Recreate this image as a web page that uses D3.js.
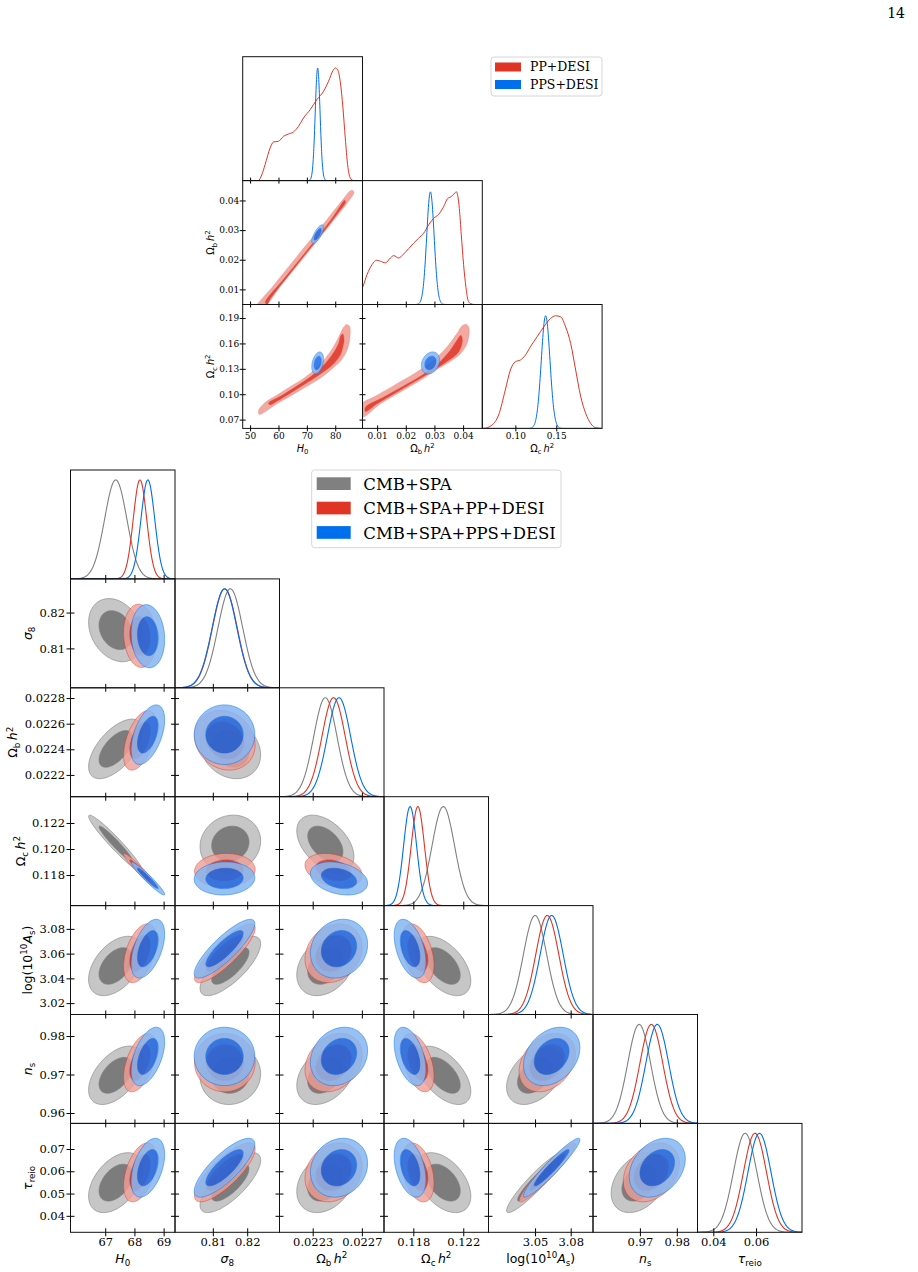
<!DOCTYPE html>
<html>
<head>
<meta charset="utf-8">
<script src="https://cdn.jsdelivr.net/npm/d3@7"></script>
<style>
body { margin: 0; background: #fff; }
</style>
</head>
<body>
<script>
"use strict";

// Size of the page
const W = 918;
const H = 1272;

// getdist colours
const grey = "#808080";
const red = "#E03424";
const blue = "#006FED";

// ---------------- upper small triangle (PP+DESI / PPS+DESI) ----------------
const topLegend = ["PP+DESI", "PPS+DESI"];
const topRanges = [[47.4, 89.6], [0.0049, 0.0467], [0.0596, 0.206]];
const topXTicks = [[50, 60, 70, 80], [0.01, 0.02, 0.03, 0.04], [0.10, 0.15]];
const topYTicks = [[], [0.01, 0.02, 0.03, 0.04], [0.07, 0.10, 0.13, 0.16, 0.19]];
const topFormats = [".0f", ".2f", ".2f"];

// PP+DESI marginals (value, relative density)
const ppH0Curve = [[47.4, 0], [52.9, 0], [54.1, 0.05], [55.29, 0.142], [57.06, 0.29], [58.24, 0.343],
  [60.0, 0.349], [61.76, 0.393], [63.53, 0.414], [65.29, 0.432], [67.06, 0.482], [68.82, 0.556],
  [71.18, 0.63], [73.53, 0.719], [75.88, 0.793], [77.65, 0.882], [79.18, 0.976], [80.0, 1],
  [80.82, 0.985], [81.76, 0.88], [82.71, 0.645], [83.53, 0.379], [84.35, 0.142], [85.29, 0.024],
  [86.47, 0], [89.6, 0]];
const ppObCurve = [[0.0049, 0.15], [0.00512, 0.164], [0.00652, 0.267], [0.00826, 0.355], [0.00976, 0.393],
  [0.01115, 0.384], [0.01289, 0.370], [0.01463, 0.413], [0.0158, 0.434], [0.01753, 0.413],
  [0.01927, 0.449], [0.02101, 0.496], [0.02276, 0.545], [0.02449, 0.589], [0.02624, 0.633],
  [0.02798, 0.707], [0.02972, 0.765], [0.03146, 0.8], [0.0332, 0.868], [0.0346, 0.941],
  [0.03578, 0.956], [0.03728, 0.994], [0.0377, 1], [0.03868, 0.853], [0.03937, 0.619],
  [0.04017, 0.355], [0.04101, 0.15], [0.04171, 0.038], [0.0425, 0.009], [0.044, 0], [0.0467, 0]];
const ppOcCurve = [[0.0596, 0], [0.0611, 0], [0.0714, 0.03], [0.0795, 0.118], [0.0877, 0.341],
  [0.0939, 0.518], [0.100, 0.592], [0.1061, 0.607], [0.1123, 0.651], [0.1184, 0.725],
  [0.1266, 0.814], [0.1348, 0.902], [0.143, 0.976], [0.1491, 1], [0.1553, 0.991], [0.1614, 0.902],
  [0.1676, 0.754], [0.1737, 0.518], [0.1799, 0.281], [0.186, 0.133], [0.1921, 0.044],
  [0.1983, 0.006], [0.206, 0]];

// PP+DESI 2D contours (outer 95%, inner 68%), traced points
const ppH0ObOuter = [[52.05, 0.00387], [57.94, 0.01093], [63.82, 0.01789], [69.7, 0.02485], [75.58, 0.03169],
  [80.29, 0.03742], [83.82, 0.04168], [85.0, 0.04303], [86.0, 0.04346], [86.6, 0.04259],
  [85.83, 0.04124], [83.24, 0.03787], [78.54, 0.03225], [72.65, 0.02518], [66.77, 0.01822],
  [60.89, 0.01138], [55.24, 0.00442]];
const ppH0ObInner = [[55.35, 0.00555], [61.8, 0.0134], [67.7, 0.02036], [73.55, 0.02731], [79.45, 0.03472],
  [82.75, 0.03955], [83.3, 0.04011], [83.62, 0.03944], [80.55, 0.03529], [74.65, 0.02798],
  [68.75, 0.02103], [62.9, 0.01396], [57.0, 0.00667], [56.1, 0.00498]];
const ppH0OcOuter = [[52.94, 0.0802], [55.29, 0.0901], [59.41, 0.0987], [64.12, 0.1088], [68.82, 0.1186],
  [72.94, 0.1296], [76.47, 0.1422], [79.41, 0.156], [81.53, 0.1696], [82.94, 0.179], [84.12, 0.1825],
  [85.06, 0.18], [85.06, 0.164], [84.12, 0.1518], [82.0, 0.1398], [78.82, 0.1299], [74.71, 0.1189],
  [69.41, 0.1083], [64.12, 0.0977], [58.82, 0.0875], [54.71, 0.078], [53.29, 0.076]];
const ppH0OcInner = [[56.47, 0.0895], [61.18, 0.0985], [66.47, 0.1096], [71.18, 0.1202], [75.29, 0.1322],
  [78.82, 0.146], [81.18, 0.1598], [82.0, 0.1694], [82.71, 0.1712], [83.1, 0.1617], [82.94, 0.16],
  [82.0, 0.148], [79.41, 0.136], [75.29, 0.1252], [70.0, 0.1134], [64.71, 0.1024], [59.41, 0.0916],
  [57.06, 0.0875]];
const ppObOcOuter = [[0.00418, 0.0869], [0.01, 0.0987], [0.01696, 0.1125], [0.02393, 0.1263], [0.02973, 0.1401],
  [0.03438, 0.1558], [0.03786, 0.1716], [0.03961, 0.1806], [0.04111, 0.1825], [0.04205, 0.1785],
  [0.04158, 0.162], [0.03961, 0.15], [0.03612, 0.14], [0.0309, 0.1294], [0.02509, 0.1164],
  [0.01812, 0.1026], [0.01115, 0.0888], [0.00476, 0.0731]];
const ppObOcInner = [[0.00592, 0.0845], [0.01231, 0.0966], [0.01928, 0.1098], [0.02567, 0.1224], [0.0309, 0.135],
  [0.03554, 0.1519], [0.03786, 0.1637], [0.03926, 0.1696], [0.03975, 0.163], [0.03844, 0.15],
  [0.03496, 0.14], [0.02973, 0.1282], [0.02393, 0.1164], [0.01696, 0.1026], [0.01, 0.0888],
  [0.00592, 0.0795]];

// PPS+DESI: mean, width and correlations (H0-Ob, H0-Oc, Ob-Oc)
const ppsTopMean = [73.8, 0.0286, 0.137];
const ppsTopSigma = [0.85, 0.0013, 0.0053];
const ppsTopCorr = [0.75, 0.35, 0.25];

// ---------------- lower big triangle (CMB+SPA combinations) ----------------
const lowLegend = ["CMB+SPA", "CMB+SPA+PP+DESI", "CMB+SPA+PPS+DESI"];
const lowRanges = [[65.81, 69.39], [0.799, 0.8294], [0.02203, 0.02288], [0.11565, 0.12402],
  [3.0108, 3.0988], [0.9573, 0.9856], [0.0326, 0.0815]];
const lowXTicks = [[67, 68, 69], [0.81, 0.82], [0.0223, 0.0227], [0.118, 0.122], [3.05, 3.08], [0.97, 0.98], [0.04, 0.06]];
const lowYTicks = [[], [0.81, 0.82], [0.0222, 0.0224, 0.0226, 0.0228], [0.118, 0.120, 0.122],
  [3.02, 3.04, 3.06, 3.08], [0.96, 0.97, 0.98], [0.04, 0.05, 0.06, 0.07]];
const lowFormats = [".0f", ".2f", ".4f", ".3f", ".2f", ".2f", ".2f"];

// means and widths read from the marginals: H0, s8, Obh2, Och2, logA, ns, tau
const cmbMean = [67.36, 0.8151, 0.022403, 0.1204, 3.0500, 0.9698, 0.0549];
const cmbSigma = [0.38, 0.0036, 0.000095, 0.0009, 0.0098, 0.0031, 0.0055];
const ppMean = [68.19, 0.8135, 0.022470, 0.11836, 3.0603, 0.9731, 0.0595];
const ppSigma = [0.23, 0.0036, 0.000095, 0.00053, 0.0097, 0.0031, 0.0054];
const ppsMean = [68.46, 0.8134, 0.022514, 0.11774, 3.0640, 0.9747, 0.0616];
const ppsSigma = [0.235, 0.0036, 0.000095, 0.00052, 0.0097, 0.0031, 0.0054];

// correlations, row by row: (s8,H0) (Ob,H0) (Ob,s8) (Oc,H0) (Oc,s8) (Oc,Ob) ...
const cmbCorr = [-0.25, 0.6, -0.2, -0.96, 0.1, -0.45, 0.45, 0.75, 0.3, -0.5,
  0.5, 0.05, 0.35, -0.55, 0.4, 0.45, 0.75, 0.3, -0.45, 0.93, 0.35];
const ppCorr = [-0.1, 0.5, -0.15, -0.96, 0.05, -0.3, 0.45, 0.85, 0.2, -0.4,
  0.5, 0.0, 0.25, -0.45, 0.3, 0.45, 0.8, 0.2, -0.35, 0.95, 0.3];
const ppsCorr = [-0.1, 0.5, 0.0, -0.96, 0.05, -0.3, 0.5, 0.85, 0.15, -0.45,
  0.5, 0.0, 0.2, -0.45, 0.3, 0.45, 0.8, 0.15, -0.4, 0.95, 0.3];

// axis labels as (text, style) pieces: i italic, s subscript, S superscript
const lblH0 = [["H", "i"], ["0", "s"]];
const lblS8 = [["σ", "i"], ["8", "s"]];
const lblOb = [["Ω", ""], ["b", "s"], ["\u2009h", "i"], ["2", "S"]];
const lblOc = [["Ω", ""], ["c", "s"], ["\u2009h", "i"], ["2", "S"]];
const lblAs = [["log(10", ""], ["10", "S"], ["A", "i"], ["s", "s"], [")", ""]];
const lblNs = [["n", "i"], ["s", "s"]];
const lblTau = [["τ", "i"], ["reio", "s"]];
const topLabels = [lblH0, lblOb, lblOc];
const lowLabels = [lblH0, lblS8, lblOb, lblOc, lblAs, lblNs, lblTau];

// contour radii for 68% / 95% of a 2D gaussian
const r68 = Math.sqrt(-2 * Math.log(0.32));
const r95 = Math.sqrt(-2 * Math.log(0.05));

const svg = d3.select("body").append("svg")
	.attr("width", W)
	.attr("height", H)
	.style("background", "#fff");
const defs = svg.append("defs");
let clipCount = 0;

function panelClip(px, py, w, h) {
	const id = "clip" + (clipCount++);
	defs.append("clipPath").attr("id", id)
		.append("rect").attr("x", px).attr("y", py).attr("width", w).attr("height", h);
	return "url(#" + id + ")";
}

function mathText(sel, parts, size) {
	let shift = 0;
	parts.forEach(([t, kind]) => {
		const ts = sel.append("tspan").text(t);
		let target = 0, fs = size;
		if (kind.indexOf("s") >= 0) { target = 0.25 * size; fs = size * 0.7; }
		if (kind.indexOf("S") >= 0) { target = -0.38 * size; fs = size * 0.7; }
		ts.attr("dy", target - shift).style("font-size", fs + "px");
		if (kind.indexOf("i") >= 0) ts.style("font-style", "italic");
		shift = target;
	});
}

function ellipse(mx, my, sx, sy, rho, r) {
	return d3.range(0, 97).map(k => {
		const t = k / 96 * 2 * Math.PI;
		return [mx + r * sx * Math.cos(t),
			my + r * sy * (rho * Math.cos(t) + Math.sqrt(1 - rho * rho) * Math.sin(t))];
	});
}

// Draws frame, ticks and tick labels of one panel; returns left edge of y tick labels
function axes(g, p, xs, ys, xt, yt, fx, fy, showX, showY, c) {
	const ax = g.append("g")
		.attr("transform", `translate(0,${p.y + p.h - c.tick})`)
		.call(d3.axisBottom(xs).tickValues(xt).tickSize(2 * c.tick).tickPadding(c.padX)
			.tickFormat(showX ? d3.format(fx) : ""));
	ax.select(".domain").remove();
	ax.attr("font-family", "DejaVu Serif").attr("font-size", c.tickFont);
	let left = p.x;
	if (yt) {
		const ay = g.append("g")
			.attr("transform", `translate(${p.x + c.tick},0)`)
			.call(d3.axisLeft(ys).tickValues(yt).tickSize(2 * c.tick).tickPadding(c.padY)
				.tickFormat(showY ? d3.format(fy) : ""));
		ay.select(".domain").remove();
		ay.attr("font-family", "DejaVu Serif").attr("font-size", c.tickFont);
		left = p.x + c.tick + ay.node().getBBox().x;
	}
	g.append("rect")
		.attr("x", p.x).attr("y", p.y).attr("width", p.w).attr("height", p.h)
		.attr("fill", "none").attr("stroke", "#111").attr("stroke-width", 1);
	return left;
}

function xLabel(parts, x, y, size) {
	const t = svg.append("text").attr("x", x).attr("y", y)
		.attr("text-anchor", "middle").attr("font-family", "DejaVu Sans");
	mathText(t, parts, size);
}

function yLabel(parts, x, y, size) {
	const t = svg.append("text")
		.attr("transform", `translate(${x},${y}) rotate(-90)`)
		.attr("text-anchor", "middle").attr("font-family", "DejaVu Sans");
	mathText(t, parts, size);
}

const lineGen = d3.line().curve(d3.curveMonotoneX);
const closedGen = d3.line().curve(d3.curveCatmullRomClosed.alpha(0.5));

// ---------------- lower triangle ----------------
const lowCfg = { x0: 70.5, y0: 470, w: 104.5, h: 108.9, tick: 4, padX: 1.5, padY: 1.5, tickFont: 11.5, labFont: 12.5 };
const lowSets = [
	{ mean: cmbMean, sigma: cmbSigma, corr: cmbCorr, color: grey, light: "#c6c6c6", inner: "#7c7c7c", alpha: 1 },
	{ mean: ppMean, sigma: ppSigma, corr: ppCorr, color: red, light: "#f0a098", inner: red, alpha: 0.8 },
	{ mean: ppsMean, sigma: ppsSigma, corr: ppsCorr, color: blue, light: "#86b6f2", inner: "#1a6ae6", alpha: 0.85 }
];

const nLow = lowRanges.length;
for (let i = 0; i < nLow; i++) {
	for (let j = 0; j <= i; j++) {
		const p = { x: lowCfg.x0 + j * lowCfg.w, y: lowCfg.y0 + i * lowCfg.h, w: lowCfg.w, h: lowCfg.h };
		const xs = d3.scaleLinear().domain(lowRanges[j]).range([p.x, p.x + p.w]);
		const g = svg.append("g");
		const body = g.append("g").attr("clip-path", panelClip(p.x, p.y, p.w, p.h));
		let ys;
		if (i === j) {
			ys = d3.scaleLinear().domain([0, 1.1]).range([p.y + p.h, p.y]);
			const grid = d3.range(0, 241).map(k => lowRanges[j][0] + (lowRanges[j][1] - lowRanges[j][0]) * k / 240);
			lowSets.forEach(s => {
				const m = s.mean[j], sd = s.sigma[j];
				body.append("path")
					.attr("d", lineGen(grid.map(v => [xs(v), ys(Math.exp(-0.5 * ((v - m) / sd) ** 2))])))
					.attr("fill", "none").attr("stroke", s.color).attr("stroke-width", 1.1);
			});
			axes(g, p, xs, ys, lowXTicks[j], null, lowFormats[j], null, i === nLow - 1, false, lowCfg);
		} else {
			ys = d3.scaleLinear().domain(lowRanges[i]).range([p.y + p.h, p.y]);
			const k = i * (i - 1) / 2 + j;
			lowSets.forEach(s => {
				const sg = body.append("g").attr("opacity", s.alpha);
				[[r95, s.light], [r68, s.inner]].forEach(([r, fill]) => {
					const pts = ellipse(s.mean[j], s.mean[i], s.sigma[j], s.sigma[i], s.corr[k], r)
						.map(d => [xs(d[0]), ys(d[1])]);
					sg.append("path").attr("d", d3.line()(pts) + "Z")
						.attr("fill", fill).attr("stroke", s.color).attr("stroke-width", 0.6);
				});
			});
			const left = axes(g, p, xs, ys, lowXTicks[j], lowYTicks[i], lowFormats[j], lowFormats[i],
				i === nLow - 1, j === 0, lowCfg);
			if (j === 0) yLabel(lowLabels[i], left - 7.5, p.y + p.h / 2, lowCfg.labFont);
		}
		if (i === nLow - 1) xLabel(lowLabels[j], p.x + p.w / 2, 1263, lowCfg.labFont);
	}
}

// ---------------- upper triangle ----------------
const upCfg = { x0: 242.7, y0: 56.7, w: 119.8, h: 123.9, tick: 3, padX: 1, padY: 0.5, tickFont: 9, labFont: 9.8 };
const ppCurves = [ppH0Curve, ppObCurve, ppOcCurve];
const ppShapes = { "1,0": [ppH0ObOuter, ppH0ObInner], "2,0": [ppH0OcOuter, ppH0OcInner], "2,1": [ppObOcOuter, ppObOcInner] };

for (let i = 0; i < 3; i++) {
	for (let j = 0; j <= i; j++) {
		const p = { x: upCfg.x0 + j * upCfg.w, y: upCfg.y0 + i * upCfg.h, w: upCfg.w, h: upCfg.h };
		const xs = d3.scaleLinear().domain(topRanges[j]).range([p.x, p.x + p.w]);
		const g = svg.append("g");
		const body = g.append("g").attr("clip-path", panelClip(p.x, p.y, p.w, p.h));
		let ys;
		if (i === j) {
			ys = d3.scaleLinear().domain([0, 1.1]).range([p.y + p.h, p.y]);
			body.append("path")
				.attr("d", lineGen(ppCurves[j].map(d => [xs(d[0]), ys(d[1])])))
				.attr("fill", "none").attr("stroke", red).attr("stroke-width", 1);
			const grid = d3.range(0, 401).map(k => topRanges[j][0] + (topRanges[j][1] - topRanges[j][0]) * k / 400);
			const m = ppsTopMean[j], sd = ppsTopSigma[j];
			body.append("path")
				.attr("d", lineGen(grid.map(v => [xs(v), ys(Math.exp(-0.5 * ((v - m) / sd) ** 2))])))
				.attr("fill", "none").attr("stroke", blue).attr("stroke-width", 1);
			axes(g, p, xs, ys, topXTicks[j], null, topFormats[j], null, i === 2, false, upCfg);
		} else {
			ys = d3.scaleLinear().domain(topRanges[i]).range([p.y + p.h, p.y]);
			const shapes = ppShapes[i + "," + j];
			const rg = body.append("g").attr("opacity", 0.9);
			[[shapes[0], "#f0a098"], [shapes[1], red]].forEach(([poly, fill]) => {
				rg.append("path")
					.attr("d", closedGen(poly.map(d => [xs(d[0]), ys(d[1])])))
					.attr("fill", fill).attr("stroke", fill === red ? red : "#ea7a70").attr("stroke-width", 0.4);
			});
			const k = i * (i - 1) / 2 + j;
			const bg = body.append("g").attr("opacity", 0.85);
			[[r95, "#86b6f2"], [r68, "#1a6ae6"]].forEach(([r, fill]) => {
				const pts = ellipse(ppsTopMean[j], ppsTopMean[i], ppsTopSigma[j], ppsTopSigma[i], ppsTopCorr[k], r)
					.map(d => [xs(d[0]), ys(d[1])]);
				bg.append("path").attr("d", d3.line()(pts) + "Z")
					.attr("fill", fill).attr("stroke", blue).attr("stroke-width", 0.5);
			});
			const left = axes(g, p, xs, ys, topXTicks[j], topYTicks[i], topFormats[j], topFormats[i],
				i === 2, j === 0, upCfg);
			if (j === 0) yLabel(topLabels[i], left - 5, p.y + p.h / 2, upCfg.labFont);
		}
		if (i === 2) xLabel(topLabels[j], p.x + p.w / 2, 452, upCfg.labFont);
	}
}

// ---------------- legends ----------------
function legend(x, y, w, h, labels, colors, patch, fs, rowH, textX, firstBase) {
	const lg = svg.append("g");
	lg.append("rect").attr("x", x).attr("y", y).attr("width", w).attr("height", h)
		.attr("rx", 3).attr("fill", "#fff").attr("stroke", "#d6d6d6").attr("stroke-width", 1);
	labels.forEach((t, k) => {
		const base = firstBase + k * rowH;
		lg.append("rect").attr("x", x + patch.dx).attr("y", base - patch.up)
			.attr("width", patch.w).attr("height", patch.h).attr("fill", colors[k]);
		lg.append("text").attr("x", textX).attr("y", base)
			.attr("font-family", "DejaVu Serif").attr("font-size", fs).text(t);
	});
}
legend(491, 57, 111, 39, topLegend, [red, blue], { dx: 4, up: 8.8, w: 26, h: 9 }, 12.5, 17.5, 530, 71.3);
legend(311.7, 470, 249.3, 77.7, lowLegend, [grey, red, blue], { dx: 5, up: 12.7, w: 34, h: 12.7 }, 16.5, 24.4, 363.3, 490);

// page number
svg.append("text").attr("x", 905).attr("y", 18).attr("text-anchor", "end")
	.attr("font-family", "DejaVu Serif").attr("font-size", 14).text("14");
</script>
</body>
</html>
